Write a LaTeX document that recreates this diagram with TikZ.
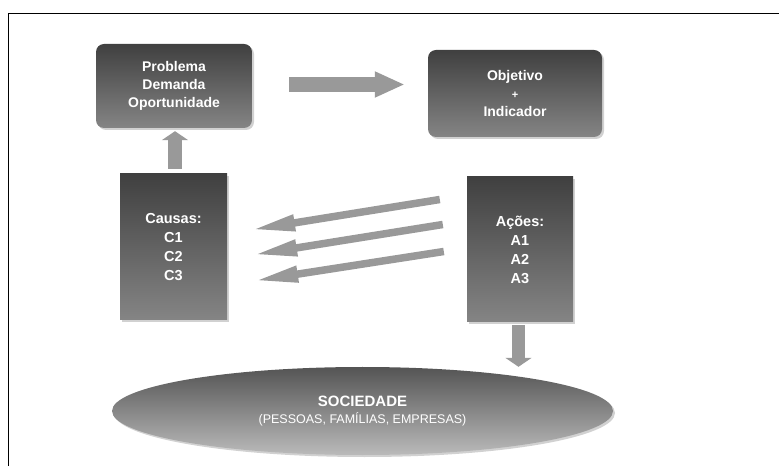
\documentclass[tikz,border=0pt]{standalone}
\usepackage{fontspec}
\setmainfont{Liberation Sans}
\usetikzlibrary{arrows.meta, positioning, calc, shapes.geometric, shadows}

\tikzset{
  darkbox/.style={draw=none, top color=black!75, bottom color=black!48,
    text=white, font=\bfseries\fontsize{14}{18}\selectfont, align=center,
    inner sep=0pt,
    drop shadow={shadow xshift=2pt, shadow yshift=-2pt, fill=black!18, opacity=1}},
  roundbox/.style={darkbox, rounded corners=8pt},
  fatarrow/.style n args={3}{draw=black!40, line width=#1,
    -{Triangle[width=#2, length=#3]}}
}

\begin{document}
\begin{tikzpicture}[x=1pt, y=1pt]
  \useasboundingbox (0,0) rectangle (779,466);

  % Draw the frame
  \draw[line width=1.2pt] (8.5,0) -- (8.5,452.5) -- (779,452.5);

  % Top boxes
  \node[roundbox, minimum width=156pt, minimum height=84pt] (prob) at (174,380)
    {Problema\\Demanda\\Oportunidade};
  \node[roundbox, minimum width=174pt, minimum height=87pt] (obj) at (515,372.5)
    {Objetivo\\{\fontsize{11}{12}\selectfont +}\\Indicador};

  % Causes and actions
  \node[darkbox, minimum width=107pt, minimum height=146pt,
    font=\bfseries\fontsize{14.5}{19}\selectfont] (causas) at (173.5,219)
    {Causas:\\C1\\C2\\C3};
  \node[darkbox, minimum width=106pt, minimum height=145pt,
    font=\bfseries\fontsize{14.5}{19}\selectfont] (acoes) at (520,216.5)
    {Ações:\\A1\\A2\\A3};

  % Society
  \node[ellipse, top color=black!67, bottom color=black!27, text=white,
    minimum width=501pt, minimum height=88pt, inner sep=0pt, align=center,
    drop shadow={shadow xshift=2pt, shadow yshift=-2pt, fill=black!18, opacity=1}]
    (soc) at (362.5,55)
    {{\bfseries\fontsize{15}{19}\selectfont SOCIEDADE}\\[5pt]
     {\fontsize{12.5}{15}\selectfont (PESSOAS, FAMÍLIAS, EMPRESAS)}};

  % Arrows
  \draw[fatarrow={15pt}{24pt}{30pt}] ($(prob.east)+(37,1.5)$) -- ($(obj.west)+(-23,9)$);
  \draw[fatarrow={14pt}{26pt}{9pt}] ($(causas.north)+(1.5,5)$) -- ($(prob.south)+(1,-3)$);
  \draw[fatarrow={13pt}{26pt}{9pt}] ($(acoes.south)+(-1.5,-3)$)
    -- ($(acoes.south |- soc.north)+(-1.5,0)$);

  % Actions back to causes
  \foreach \sx/\sy/\ex/\ey in {-27/50/23/17, -24/25/25/-8, -23/-2/26/-34} {
    \draw[fatarrow={7.5pt}{15pt}{45pt}] ($(acoes.west)+(\sx,\sy)$)
      -- ($(causas.east)+(\ex,\ey)$);
  }
\end{tikzpicture}
\end{document}
